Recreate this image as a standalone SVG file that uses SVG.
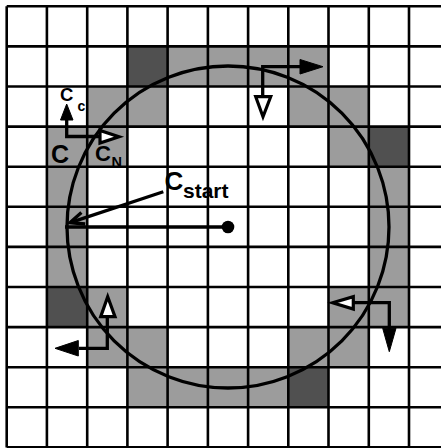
<svg xmlns="http://www.w3.org/2000/svg" width="441" height="448" viewBox="0 0 441 448">
<style>
.lt{fill:#9c9c9c}
.dk{fill:#505050}
.grid line{stroke:#000;stroke-width:2.6}
.ln{fill:none;stroke:#000;stroke-width:3.3}
.fa{fill:#000;stroke:#000;stroke-width:1}
.oa{fill:#fff;stroke:#000;stroke-width:3.2;stroke-linejoin:miter}
text{font-family:"Liberation Sans",Arial,sans-serif;font-weight:bold;fill:#000}
</style>
<rect x="0" y="0" width="441" height="448" fill="#fff"/>
<g id="cells">
<rect class="lt" x="167.6" y="46.4" width="160.9" height="40.1"/>
<rect class="lt" x="87.2" y="86.5" width="80.4" height="40.1"/>
<rect class="lt" x="288.3" y="86.5" width="80.5" height="40.1"/>
<rect class="lt" x="46.9" y="126.6" width="80.5" height="40.1"/>
<rect class="lt" x="328.5" y="126.6" width="40.3" height="40.1"/>
<rect class="lt" x="46.9" y="166.7" width="40.3" height="120.3"/>
<rect class="lt" x="368.8" y="166.7" width="40.2" height="120.3"/>
<rect class="lt" x="87.2" y="287" width="40.2" height="40.1"/>
<rect class="lt" x="328.5" y="287" width="80.5" height="40.1"/>
<rect class="lt" x="87.2" y="327.1" width="80.4" height="40.1"/>
<rect class="lt" x="288.3" y="327.1" width="80.5" height="40.1"/>
<rect class="lt" x="127.4" y="367.2" width="160.9" height="40.1"/>
<rect class="dk" x="127.4" y="46.4" width="40.2" height="40.1"/>
<rect class="dk" x="368.8" y="126.6" width="40.2" height="40.1"/>
<rect class="dk" x="46.9" y="287" width="40.3" height="40.1"/>
<rect class="dk" x="288.3" y="367.2" width="40.2" height="40.1"/>
</g>
<g id="grid" class="grid">
<line x1="6.7" y1="6.3" x2="6.7" y2="447.4"/>
<line x1="46.9" y1="6.3" x2="46.9" y2="447.4"/>
<line x1="87.2" y1="6.3" x2="87.2" y2="447.4"/>
<line x1="127.4" y1="6.3" x2="127.4" y2="447.4"/>
<line x1="167.6" y1="6.3" x2="167.6" y2="447.4"/>
<line x1="207.9" y1="6.3" x2="207.9" y2="447.4"/>
<line x1="248.1" y1="6.3" x2="248.1" y2="447.4"/>
<line x1="288.3" y1="6.3" x2="288.3" y2="447.4"/>
<line x1="328.5" y1="6.3" x2="328.5" y2="447.4"/>
<line x1="368.8" y1="6.3" x2="368.8" y2="447.4"/>
<line x1="409" y1="6.3" x2="409" y2="447.4"/>
<line x1="6.7" y1="6.3" x2="441" y2="6.3"/>
<line x1="6.7" y1="46.4" x2="441" y2="46.4"/>
<line x1="6.7" y1="86.5" x2="441" y2="86.5"/>
<line x1="6.7" y1="126.6" x2="441" y2="126.6"/>
<line x1="6.7" y1="166.7" x2="441" y2="166.7"/>
<line x1="6.7" y1="206.8" x2="441" y2="206.8"/>
<line x1="6.7" y1="246.9" x2="441" y2="246.9"/>
<line x1="6.7" y1="287" x2="441" y2="287"/>
<line x1="6.7" y1="327.1" x2="441" y2="327.1"/>
<line x1="6.7" y1="367.2" x2="441" y2="367.2"/>
<line x1="6.7" y1="407.3" x2="441" y2="407.3"/>
<line x1="6.7" y1="447.4" x2="441" y2="447.4"/>
</g>
<g id="circle">
<circle class="ln" cx="228" cy="227" r="161"/>
</g>
<g id="connectors">
<path class="ln" d="M262.7,97 V66.7 H302"/>
<polygon class="fa" points="300,59.5 323,66.7 300,74"/>
<polygon class="oa" points="255.7,96.7 270.7,96.7 263,116.7"/>
<path class="ln" d="M66.7,119 V136.5 H100"/>
<polygon class="fa" points="60.5,120 73,120 66.7,104"/>
<polygon class="oa" points="100,130.5 100,143 119,136.7"/>
<path class="ln" d="M107.3,317 V348.3 H79"/>
<polygon class="oa" points="100.7,316.7 115,316.7 107.7,296.7"/>
<polygon class="fa" points="78.3,340.5 78.3,356 55,348.3"/>
<path class="ln" d="M353.5,302.7 H389.3 V329"/>
<polygon class="oa" points="353.3,296.7 353.3,309 332.7,302.7"/>
<polygon class="fa" points="382.7,328.3 396,328.3 389.3,351.7"/>
<line class="ln" x1="163.3" y1="191.7" x2="71" y2="222.4"/>
<polyline class="ln" points="81.4,212.6 70,222.7 85.2,224"/>
<line class="ln" x1="228" y1="227" x2="65" y2="227"/>
<circle cx="228" cy="227" r="6.3" fill="#000"/>
</g>
<g id="labels">
<text x="60" y="100.5" font-size="18.5">C</text>
<text x="77.5" y="110.5" font-size="14">c</text>
<text x="51" y="162.5" font-size="25">C</text>
<text x="95" y="160.5" font-size="22">C</text>
<text x="111.5" y="167" font-size="14.5">N</text>
<text x="164.5" y="190" font-size="26">C</text>
<text x="183" y="198" font-size="21">start</text>
</g>
</svg>
